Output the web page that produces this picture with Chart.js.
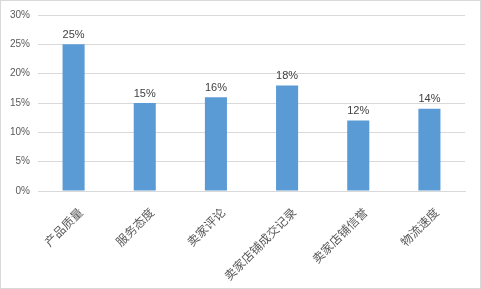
<!DOCTYPE html>
<html>
<head>
<meta charset="utf-8">
<script src="https://cdn.jsdelivr.net/npm/chart.js@4"></script>
<style>
  html, body { margin: 0; padding: 0; background: #fff; }
  #wrap { width: 481px; height: 289px; box-sizing: border-box; border: 1px solid #d9d9d9; }
</style>
</head>
<body>
<div id="wrap"><canvas id="chart" width="479" height="287"></canvas></div>
<script>
// Data
const categories = ["产品质量", "服务态度", "卖家评论", "卖家店铺成交记录", "卖家店铺信誉", "物流速度"];
const shares = [25, 15, 16, 18, 12, 14];
const yTicks = [0, 5, 10, 15, 20, 25, 30];

// Draw value labels on top of bars
const barLabels = {
    id: "barLabels",
    afterDatasetsDraw(chart) {
        const ctx = chart.ctx;
        const meta = chart.getDatasetMeta(0);
        ctx.save();
        ctx.font = "11px 'Liberation Sans', 'DejaVu Sans', sans-serif";
        ctx.fillStyle = "#404040";
        ctx.textAlign = "center";
        ctx.textBaseline = "bottom";
        meta.data.forEach((bar, i) => {
            ctx.fillText(shares[i] + "%", bar.x, bar.y - 4);
        });
        ctx.restore();
    }
};

const ctx = document.getElementById("chart").getContext("2d");
new Chart(ctx, {
    type: "bar",
    data: {
        labels: categories,
        datasets: [{
            data: shares,
            backgroundColor: "#5b9bd5",
            categoryPercentage: 1,
            barPercentage: 0.31
        }]
    },
    options: {
        responsive: false,
        animation: false,
        layout: { padding: { top: 14, right: 15, left: 0, bottom: 0 } },
        plugins: {
            legend: { display: false },
            tooltip: { enabled: false }
        },
        scales: {
            x: {
                grid: { display: false },
                border: { color: "#d9d9d9" },
                ticks: {
                    color: "#595959",
                    font: { size: 12, family: "'Noto Sans CJK SC', sans-serif" },
                    minRotation: 45,
                    maxRotation: 45,
                    padding: 6,
                    labelOffset: 7
                },
                afterFit(scale) { scale.height = 97; }
            },
            y: {
                min: 0,
                max: 30,
                afterBuildTicks(scale) { scale.ticks = yTicks.map(v => ({ value: v })); },
                grid: { color: "#d9d9d9", drawTicks: false },
                border: { display: false },
                ticks: {
                    color: "#595959",
                    font: { size: 10, family: "'Liberation Sans', 'DejaVu Sans', sans-serif" },
                    padding: 8,
                    callback: v => v + "%"
                },
                afterFit(scale) { scale.width = 37; }
            }
        }
    },
    plugins: [barLabels]
});
</script>
</body>
</html>
